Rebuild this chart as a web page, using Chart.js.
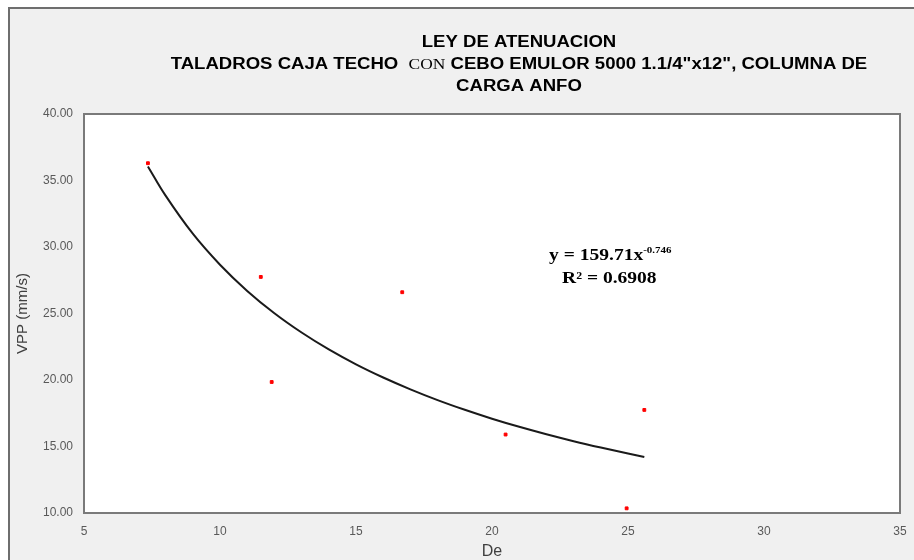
<!DOCTYPE html>
<html>
<head>
<meta charset="utf-8">
<script src="https://cdn.jsdelivr.net/npm/chart.js"></script>
<style>
  html, body { margin: 0; padding: 0; background: #fff; }
  #wrap { width: 914px; height: 560px; }
</style>
</head>
<body>
<div id="wrap"><canvas id="myChart" width="914" height="560"></canvas></div>
<script>
  // measured points (De, VPP)
  const deValues = [7.35, 11.5, 11.9, 16.7, 20.5, 24.95, 25.6];
  const vppValues = [36.3, 27.75, 19.85, 26.6, 15.9, 10.35, 17.75];

  // power trendline (y = 159.71x^-0.746)
  const trendX = [7.35, 8, 9, 10, 11, 12, 13, 14, 15, 16, 17, 18, 19, 20, 21, 22, 23, 24, 25, 25.6];
  const trendY = [36.06, 33.86, 31.0, 28.67, 26.7, 25.02, 23.57, 22.3, 21.18, 20.19, 19.3, 18.49, 17.76, 17.09, 16.48, 15.92, 15.4, 14.92, 14.47, 14.21];

  const SANS = "bold 16px 'Liberation Sans', Arial, sans-serif";
  const SERIF_T = "15px 'Liberation Serif', 'Times New Roman', serif";
  // each title line is a list of [text, font] parts
  const titleLines = [
    [["LEY DE ATENUACION", SANS]],
    [["TALADROS CAJA TECHO  ", SANS], ["CON", SERIF_T], [" CEBO EMULOR 5000 1.1/4\"x12\", COLUMNA DE", SANS]],
    [["CARGA ANFO", SANS]]
  ];
  const eqText = "y = 159.71x";
  const eqExp = "-0.746";
  const r2Text = "R\u00B2 = 0.6908";

  // draws parts centred at cx, stretched horizontally by sx
  function drawParts(c, parts, cx, cy, sx) {
    let w = 0;
    parts.forEach(p => { c.font = p[1]; w += c.measureText(p[0]).width; });
    c.save();
    c.translate(cx, cy);
    c.scale(sx, 1);
    let x = -w / 2;
    c.textAlign = "left";
    c.textBaseline = "middle";
    parts.forEach(p => {
      c.font = p[1];
      const dy = p[2] || 0;
      c.fillText(p[0], x, dy);
      x += c.measureText(p[0]).width;
    });
    c.restore();
  }

  const frame = {
    id: "frame",
    beforeDraw(chart) {
      const c = chart.ctx, a = chart.chartArea;
      c.save();
      c.fillStyle = "#fff";
      c.fillRect(0, 0, chart.width, chart.height);
      c.fillStyle = "#f0f0f0";
      c.fillRect(9, 8, chart.width - 9, chart.height - 8);
      c.strokeStyle = "#6e6e6e";
      c.lineWidth = 2;
      c.beginPath();
      c.moveTo(9, chart.height); c.lineTo(9, 8); c.lineTo(chart.width, 8);
      c.stroke();
      c.fillStyle = "#fff";
      c.fillRect(a.left, a.top, a.width, a.height);
      c.strokeStyle = "#7a7a7a";
      c.lineWidth = 2;
      c.strokeRect(a.left, a.top, a.width, a.height);
      c.restore();
    },
    afterDraw(chart) {
      const c = chart.ctx;
      const xs = chart.scales.x, ys = chart.scales.y;
      c.save();
      c.fillStyle = "#000";
      titleLines.forEach((parts, i) => drawParts(c, parts, 519, 43 + i * 21.7, 1.16));

      // trendline equation
      const cx = xs.getPixelForValue(24.35);
      const y1 = ys.getPixelForValue(29.3);
      const y2 = ys.getPixelForValue(27.6);
      const EQ = "bold 16px 'Liberation Serif', 'Times New Roman', serif";
      const EX = "bold 9px 'Liberation Serif', 'Times New Roman', serif";
      drawParts(c, [[eqText, EQ], [eqExp, EX, -6]], cx, y1, 1.22);
      drawParts(c, [[r2Text, EQ]], cx - 1, y2, 1.22);
      c.restore();
    }
  };

  new Chart(document.getElementById("myChart"), {
    type: "scatter",
    data: {
      datasets: [
        {
          label: "VPP",
          data: deValues.map((x, i) => ({ x: x, y: vppValues[i] })),
          backgroundColor: "#ff0000",
          borderColor: "#ff0000",
          pointRadius: 2,
          pointStyle: "rect",
          order: 0
        },
        {
          label: "Potencial",
          type: "line",
          data: trendX.map((x, i) => ({ x: x, y: trendY[i] })),
          borderColor: "#1a1a1a",
          borderWidth: 2,
          pointRadius: 0,
          tension: 0.4,
          fill: false,
          order: 1
        }
      ]
    },
    options: {
      responsive: false,
      animation: false,
      layout: { padding: { top: 114, right: 14, left: 10, bottom: 0 } },
      plugins: {
        legend: { display: false },
        tooltip: { enabled: false }
      },
      scales: {
        x: {
          type: "linear",
          min: 5, max: 35,
          grid: { display: false },
          border: { display: false },
          ticks: { stepSize: 5, color: "#595959", font: { size: 12, family: "'Liberation Sans', Arial" }, padding: 3 },
          title: { display: true, text: "De", color: "#404040", font: { size: 16, family: "'Liberation Sans', Arial", lineHeight: 1 }, padding: { top: 0, bottom: 0 } },
          afterFit(s) { s.height = 47; }
        },
        y: {
          min: 10, max: 40,
          grid: { display: false },
          border: { display: false },
          ticks: { stepSize: 5, color: "#595959", font: { size: 12, family: "'Liberation Sans', Arial" }, padding: 3, callback: v => v.toFixed(2) },
          title: { display: true, text: "VPP (mm/s)", color: "#404040", font: { size: 15, family: "'Liberation Sans', Arial" } },
          afterFit(s) { s.width = 74; }
        }
      }
    },
    plugins: [frame]
  });
</script>
</body>
</html>
